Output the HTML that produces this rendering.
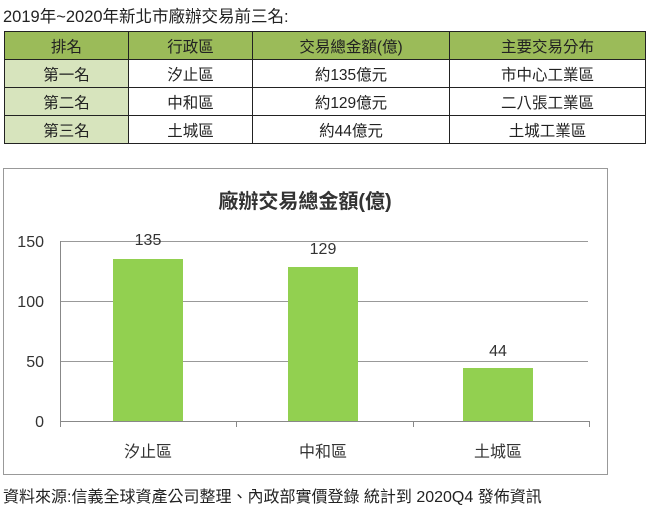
<!DOCTYPE html>
<html><head><meta charset="utf-8"><style>
body{margin:0;width:654px;height:505px;background:#fff;font-family:"Liberation Sans","Noto Sans CJK TC",sans-serif;color:#222;position:relative;overflow:hidden}
.t{position:absolute;left:3px;top:3px;font-size:16.5px}
table{position:absolute;left:4px;top:31px;border-collapse:collapse;font-size:15.5px}
td{border:1px solid #222;text-align:center;height:27px;padding:0}
tr.h td{background:#9bbb59}
td.c{background:#d7e4bd}
.f{position:absolute;left:3px;top:483px;font-size:16px}
</style></head><body>
<div class="t">2019年~2020年新北市廠辦交易前三名:</div>
<table>
<tr class="h"><td style="width:123px">排名</td><td style="width:123px">行政區</td><td style="width:196px">交易總金額(億)</td><td style="width:195px">主要交易分布</td></tr>
<tr><td class="c">第一名</td><td>汐止區</td><td>約135億元</td><td>市中心工業區</td></tr>
<tr><td class="c">第二名</td><td>中和區</td><td>約129億元</td><td>二八張工業區</td></tr>
<tr><td class="c">第三名</td><td>土城區</td><td>約44億元</td><td>土城工業區</td></tr>
</table>
<svg style="position:absolute;left:0;top:0" width="654" height="505">
<rect x="3.5" y="168.5" width="604" height="306" fill="#fff" stroke="#999"/>
<text x="305" y="208" text-anchor="middle" font-size="20" font-weight="bold" fill="#333" font-family="Liberation Sans,Noto Sans CJK TC,sans-serif">廠辦交易總金額(億)</text>
<g stroke="#999" stroke-width="1">
<line x1="60" y1="241.5" x2="588" y2="241.5"/><line x1="60" y1="301.5" x2="588" y2="301.5"/><line x1="60" y1="361.5" x2="588" y2="361.5"/>
</g>
<g fill="#92d050">
<rect x="113" y="259" width="70" height="162"/><rect x="288" y="267" width="70" height="154"/><rect x="463" y="368" width="70" height="53"/>
</g>
<g stroke="#888" stroke-width="1">
<line x1="60.5" y1="241" x2="60.5" y2="427"/><line x1="60" y1="421.5" x2="590" y2="421.5"/>
<line x1="236.5" y1="421" x2="236.5" y2="427"/><line x1="413.5" y1="421" x2="413.5" y2="427"/><line x1="589.5" y1="421" x2="589.5" y2="427"/>
</g>
<g font-size="16" fill="#333" text-anchor="end" font-family="Liberation Sans,sans-serif">
<text x="44" y="247">150</text><text x="44" y="307">100</text><text x="44" y="367">50</text><text x="44" y="427">0</text>
</g>
<g font-size="16" fill="#333" text-anchor="middle" font-family="Liberation Sans,sans-serif">
<text x="148" y="245">135</text><text x="323" y="254">129</text><text x="498" y="356">44</text>
</g>
<g font-size="16" fill="#333" text-anchor="middle" font-family="Liberation Sans,Noto Sans CJK TC,sans-serif">
<text x="148" y="457">汐止區</text><text x="323" y="457">中和區</text><text x="498" y="457">土城區</text>
</g>
</svg>
<div class="f">資料來源:信義全球資產公司整理、內政部實價登錄 統計到 2020Q4 發佈資訊</div>
</body></html>
